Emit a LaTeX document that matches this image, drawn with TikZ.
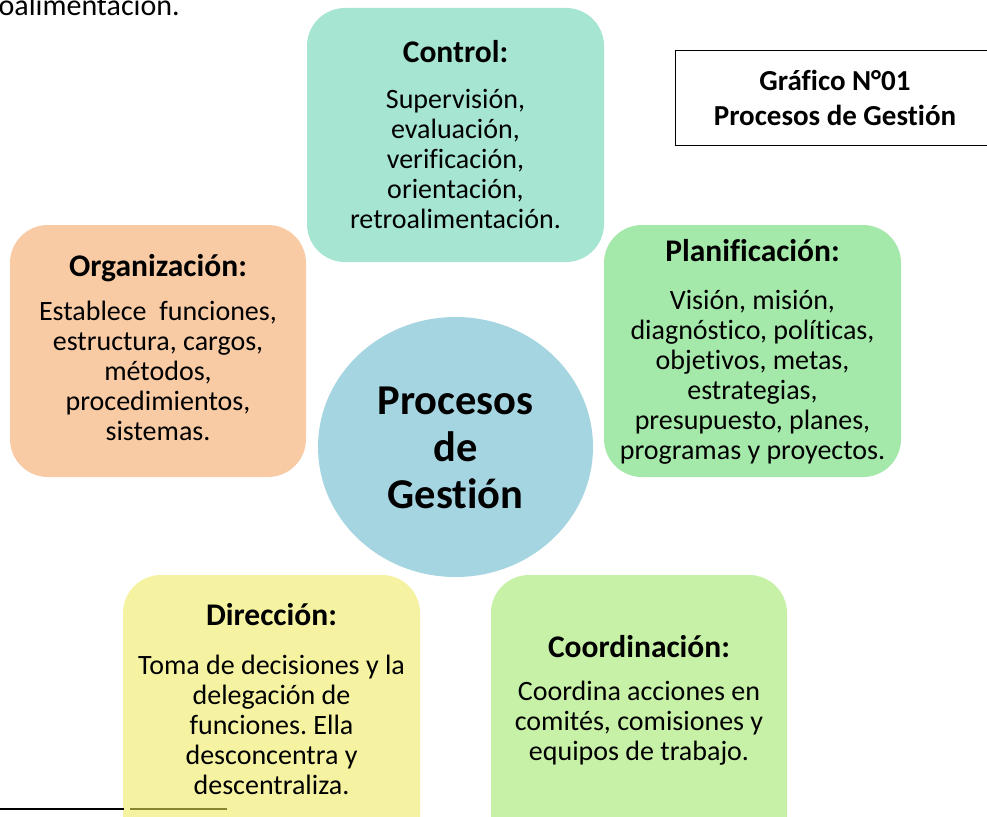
\documentclass[tikz,border=0pt]{standalone}
\usepackage{fontspec}
\setmainfont{Carlito}[RawFeature={-liga}]
\frenchspacing
\usetikzlibrary{shapes.geometric}
\definecolor{cctrl}{HTML}{A5E5D1}
\definecolor{corg}{HTML}{F8CBA5}
\definecolor{cplan}{HTML}{A5E9AA}
\definecolor{ccirc}{HTML}{A6D5E2}
\definecolor{cdir}{HTML}{F5F3A1}
\definecolor{ccoord}{HTML}{C7F1A6}
\definecolor{colive}{HTML}{86862E}
\tikzset{
  card/.style={rounded corners=38pt, inner sep=0pt, draw=none},
  head/.style={font=\fontsize{31.5}{34}\selectfont\bfseries, inner sep=0pt},
  body/.style={font=\fontsize{28}{30}\selectfont, align=center, inner sep=0pt},
  titlebox/.style={draw=black, line width=1.2pt, inner sep=0pt}
}
\begin{document}
\begin{tikzpicture}[x=1pt,y=-1pt]
\useasboundingbox (0,0) rectangle (987,816);
\clip (0,0) rectangle (987,816);
\fill[white] (0,0) rectangle (987,816);

% top-left remnant text
\node[font=\fontsize{30}{34}\selectfont, anchor=base east, inner sep=0pt] (prev) at (180,16) {oalimentación.};

% cards
\node[card, fill=cctrl, minimum width=297pt, minimum height=254pt] (control) at (455.5,135) {};
\node[card, fill=corg, minimum width=296pt, minimum height=252pt] (organiz) at (158,351) {};
\node[card, fill=cplan, minimum width=297pt, minimum height=252pt] (planif) at (752.5,351) {};
\node[card, fill=cdir, minimum width=297pt, minimum height=290pt] (direcc) at (271.5,720) {};
\node[card, fill=ccoord, minimum width=296pt, minimum height=290pt] (coord) at (639,720) {};

% centre
\node[ellipse, fill=ccirc, minimum width=275pt, minimum height=260pt, inner sep=0pt] (centro) at (455.5,447) {};
\node[font=\fontsize{42.5}{47}\selectfont\bfseries, align=center, inner sep=0pt] (centrotxt) at (455.5,448) {Procesos\\de\\Gestión};

% headings
\node[head] (hcontrol) at (455.5,52) {Control:};
\node[head] (horg) at (158,268) {Organización:};
\node[head] (hplan) at (752.5,251) {Planificación:};
\node[head] (hdir) at (271.5,615) {Dirección:};
\node[head] (hcoord) at (639,647) {Coordinación:};

% bodies
\node[body] (bcontrol) at (455.5,159) {Supervisión,\\evaluación,\\verificación,\\orientación,\\retroalimentación.};
\node[body] (borg) at (158,371) {Establece\ \ funciones,\\estructura, cargos,\\métodos,\\procedimientos,\\sistemas.};
\node[body] (bplan) at (752.5,377) {Visión, misión,\\diagnóstico, políticas,\\objetivos, metas,\\estrategias,\\presupuesto, planes,\\programas y proyectos.};
\node[body] (bdir) at (271.5,725) {Toma de decisiones y la\\delegación de\\funciones. Ella\\desconcentra y\\descentraliza.};
\node[body] (bcoord) at (639,723) {Coordina acciones en\\comités, comisiones y\\equipos de trabajo.};

% title box
\node[titlebox, minimum width=330pt, minimum height=95pt, anchor=north west] (tbox) at (675,50) {};
\node[font=\fontsize{29}{35}\selectfont\bfseries, align=center, inner sep=0pt] (ttxt) at (835,98) {Gráfico N°01\\Procesos de Gestión};

% footnote rule
\coordinate (r0) at (0,809);
\coordinate (r1) at (124,809);
\coordinate (r2) at (130,809);
\coordinate (r3) at (227,809);
\draw[black, line width=1.6pt] (r0) -- (r1);
\draw[colive, line width=1.6pt] (r2) -- (r3);
\end{tikzpicture}
\end{document}
